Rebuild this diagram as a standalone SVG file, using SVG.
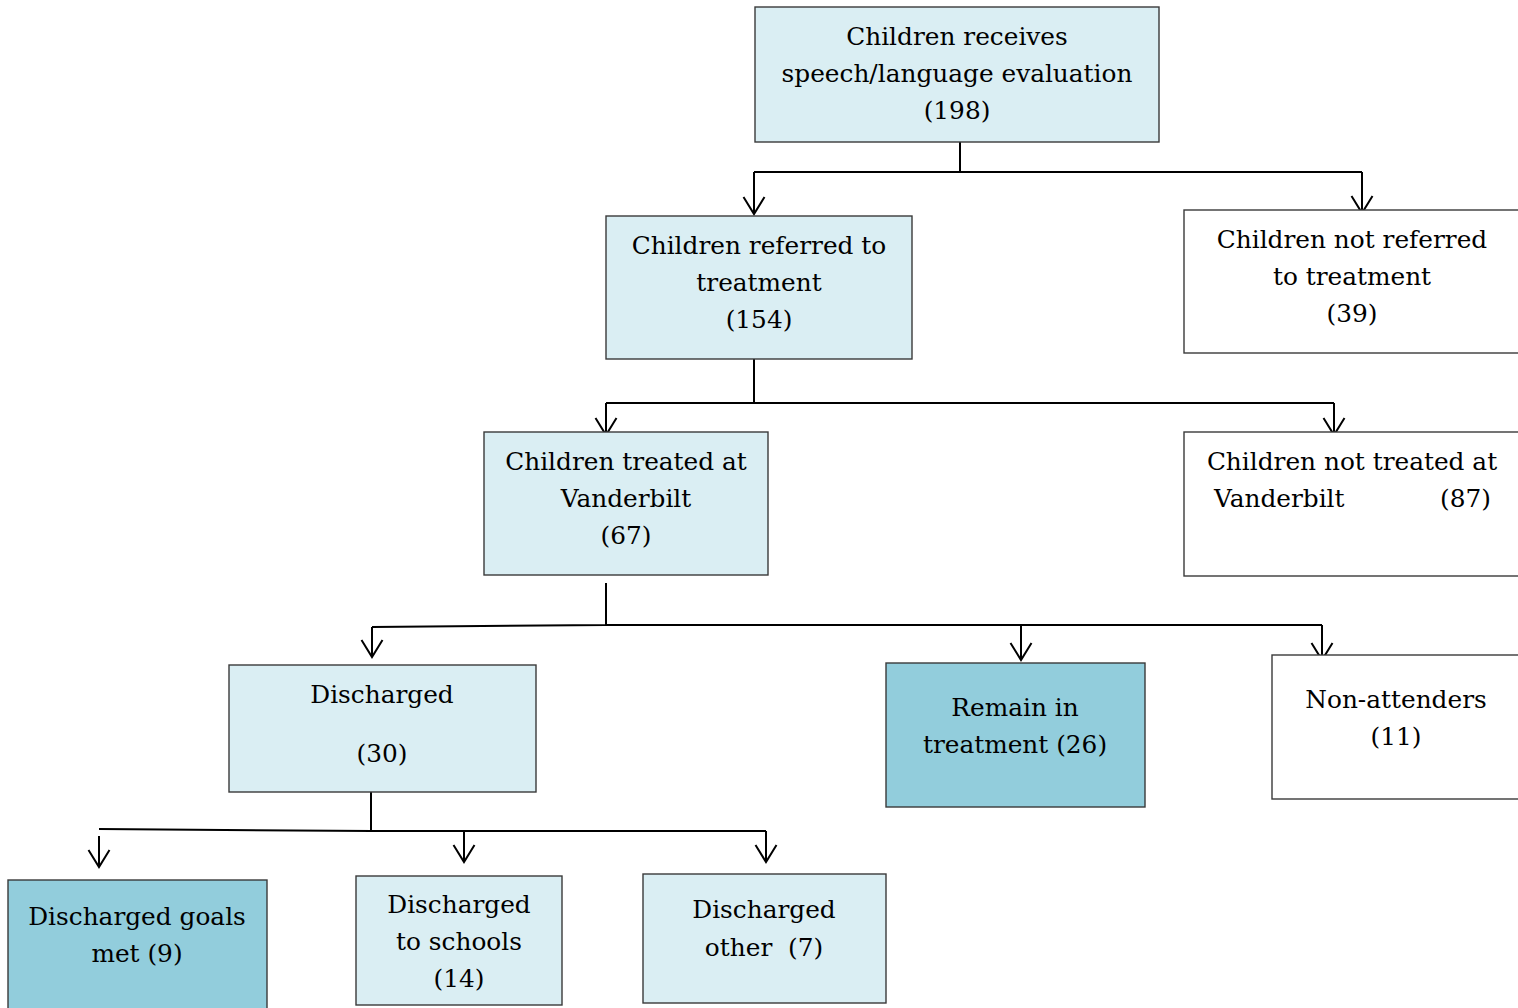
<svg xmlns="http://www.w3.org/2000/svg" width="1518" height="1008" viewBox="0 0 1518 1008">
  <style>
    .box { stroke: #3a3a3a; stroke-width: 1.4; }
    .light { fill: #daeef3; }
    .dark { fill: #92cddc; }
    .plain { fill: #ffffff; }
    .lbl { font-family: "DejaVu Serif", "Liberation Serif", serif; font-size: 24.8px; fill: #000000; text-anchor: middle; }
    .lbl-l { text-anchor: start; }
    .lbl-r { text-anchor: end; }
    .wire { fill: none; stroke: #000000; stroke-width: 2; }
    .arrow { fill: none; stroke: #000000; stroke-width: 2; marker-end: url(#vhead); }
  </style>
  <defs>
    <marker id="vhead" markerUnits="userSpaceOnUse" orient="auto" refX="0" refY="0" markerWidth="30" markerHeight="30" viewBox="-20 -15 25 30" overflow="visible">
      <path d="M-17,-10.5 L0,0 L-17,10.5" fill="none" stroke="#000000" stroke-width="2"/>
    </marker>
  </defs>
  <rect width="1518" height="1008" fill="#ffffff"/>

  <!-- connectors -->
  <g id="connectors">
    <path class="wire" d="M960,142 V172 M754,172 H1362"/>
    <path class="arrow" d="M754,172 V214"/>
    <path class="arrow" d="M1362,172 V213"/>

    <path class="wire" d="M754,359 V403 M606,403 H1334"/>
    <path class="arrow" d="M606,403 V435"/>
    <path class="arrow" d="M1334,403 V435"/>

    <path class="wire" d="M606,583 V625 M372,627 L606,625 H1322"/>
    <path class="arrow" d="M372,627 V657"/>
    <path class="arrow" d="M1021,625 V660"/>
    <path class="arrow" d="M1322,625 V660"/>

    <path class="wire" d="M371,792 V832 M99,829 L372,831 H766"/>
    <path class="arrow" d="M99,836 V867"/>
    <path class="arrow" d="M464,831 V862"/>
    <path class="arrow" d="M766,831 V862"/>
  </g>

  <g id="n-evaluation">
    <rect class="box light" x="755" y="7" width="404" height="135"/>
    <text class="lbl" x="957" y="45">Children receives</text>
    <text class="lbl" x="957" y="82">speech/language evaluation</text>
    <text class="lbl" x="957" y="119">(198)</text>
  </g>

  <g id="n-referred">
    <rect class="box light" x="606" y="216" width="306" height="143"/>
    <text class="lbl" x="759" y="254">Children referred to</text>
    <text class="lbl" x="759" y="291">treatment</text>
    <text class="lbl" x="759" y="328">(154)</text>
  </g>

  <g id="n-not-referred">
    <rect class="box plain" x="1184" y="210" width="340" height="143"/>
    <text class="lbl" x="1352" y="248">Children not referred</text>
    <text class="lbl" x="1352" y="285">to treatment</text>
    <text class="lbl" x="1352" y="322">(39)</text>
  </g>

  <g id="n-treated">
    <rect class="box light" x="484" y="432" width="284" height="143"/>
    <text class="lbl" x="626" y="470">Children treated at</text>
    <text class="lbl" x="626" y="507">Vanderbilt</text>
    <text class="lbl" x="626" y="544">(67)</text>
  </g>

  <g id="n-not-treated">
    <rect class="box plain" x="1184" y="432" width="340" height="144"/>
    <text class="lbl" x="1352" y="470">Children not treated at</text>
    <text class="lbl lbl-l" x="1214" y="507">Vanderbilt</text>
    <text class="lbl lbl-r" x="1491" y="507">(87)</text>
  </g>

  <g id="n-discharged">
    <rect class="box light" x="229" y="665" width="307" height="127"/>
    <text class="lbl" x="382" y="703">Discharged</text>
    <text class="lbl" x="382" y="762">(30)</text>
  </g>

  <g id="n-remain">
    <rect class="box dark" x="886" y="663" width="259" height="144"/>
    <text class="lbl" x="1015" y="716">Remain in</text>
    <text class="lbl" x="1015" y="753">treatment (26)</text>
  </g>

  <g id="n-non-attenders">
    <rect class="box plain" x="1272" y="655" width="252" height="144"/>
    <text class="lbl" x="1396" y="708">Non-attenders</text>
    <text class="lbl" x="1396" y="745">(11)</text>
  </g>

  <g id="n-goals-met">
    <rect class="box dark" x="8" y="880" width="259" height="140"/>
    <text class="lbl" x="137" y="925">Discharged goals</text>
    <text class="lbl" x="137" y="962">met (9)</text>
  </g>

  <g id="n-schools">
    <rect class="box light" x="356" y="876" width="206" height="129"/>
    <text class="lbl" x="459" y="913">Discharged</text>
    <text class="lbl" x="459" y="950">to schools</text>
    <text class="lbl" x="459" y="987">(14)</text>
  </g>

  <g id="n-other">
    <rect class="box light" x="643" y="874" width="243" height="129"/>
    <text class="lbl" x="764" y="918">Discharged</text>
    <text class="lbl" x="764" y="956" xml:space="preserve">other  (7)</text>
  </g>
</svg>
